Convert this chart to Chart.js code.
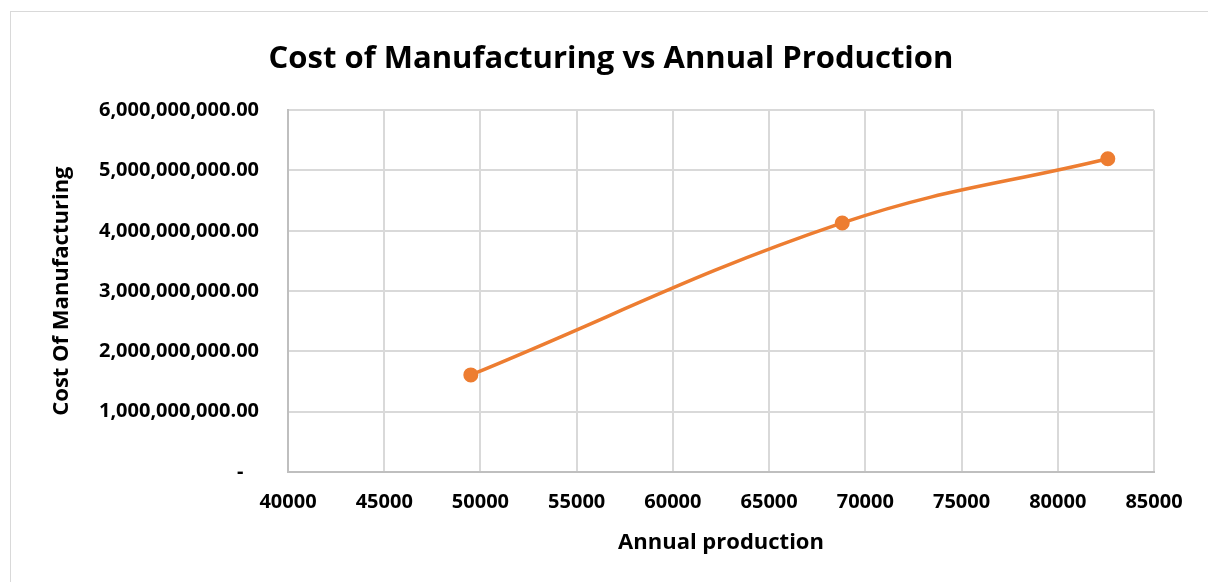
<!DOCTYPE html>
<html>
<head>
<meta charset="utf-8">
<script src="https://cdn.jsdelivr.net/npm/chart.js@4"></script>
<style>
  html, body { margin: 0; padding: 0; background: #fff; overflow: hidden; }
  #wrap { position: relative; width: 1208px; height: 582px; }
  #frame { position: absolute; left: 10px; top: 11px; width: 1210px; height: 600px;
           border: 1px solid #d9d9d9; pointer-events: none; }
</style>
</head>
<body>
<div id="wrap">
  <canvas id="chart" width="1208" height="582"></canvas>
  <div id="frame"></div>
</div>
<script>
// Dados
const chartTitle = 'Cost of Manufacturing vs Annual Production';
const xTitle = 'Annual production';
const yTitle = 'Cost Of Manufacturing';
const annualProduction = [49500, 68800, 82600];
const manufacturingCost = [1610000000, 4130000000, 5195000000];
const xRange = [40000, 85000, 5000];
const yRange = [0, 6000000000, 1000000000];

const orange = '#ED7D31';
const font = "'Open Sans', sans-serif";

const points = annualProduction.map((x, i) => ({ x: x, y: manufacturingCost[i] }));

new Chart(document.getElementById('chart'), {
    type: 'scatter',
    data: {
        datasets: [{
            data: points,
            showLine: true,
            borderColor: orange,
            backgroundColor: orange,
            borderWidth: 3.5,
            pointRadius: 6.5,
            pointBorderWidth: 2,
            tension: 0.4
        }]
    },
    options: {
        responsive: false,
        animation: false,
        // padding à esquerda só para centralizar o título como no Excel
        layout: { padding: { left: 68, right: 54, top: 0, bottom: 0 } },
        plugins: {
            legend: { display: false },
            tooltip: { enabled: false },
            title: {
                display: true,
                text: chartTitle,
                color: '#000',
                font: { family: font, size: 31, weight: 'bold' },
                padding: { top: 41, bottom: 32 }
            }
        },
        scales: {
            x: {
                type: 'linear',
                min: xRange[0], max: xRange[1],
                afterFit: s => { s.height = 110; },
                ticks: {
                    stepSize: xRange[2],
                    color: '#000',
                    font: { family: font, size: 20, weight: 'bold' },
                    padding: 18,
                    maxRotation: 0,
                    callback: v => String(v)
                },
                grid: { color: '#d9d9d9', lineWidth: 2, drawTicks: false },
                border: { color: '#bfbfbf', width: 2 },
                title: {
                    display: true,
                    text: xTitle,
                    color: '#000',
                    font: { family: font, size: 22, weight: 'bold' },
                    padding: { top: 0, bottom: 26 }
                }
            },
            y: {
                min: yRange[0], max: yRange[1],
                afterFit: s => { s.width = 220; },
                ticks: {
                    stepSize: yRange[2],
                    color: '#000',
                    font: { family: font, size: 20, weight: 'bold' },
                    padding: 29,
                    callback: v => v === 0 ? '-   ' : v.toLocaleString('en-US', { minimumFractionDigits: 2 })
                },
                grid: { color: '#d9d9d9', lineWidth: 2, drawTicks: false },
                border: { color: '#bfbfbf', width: 2 },
                title: {
                    display: true,
                    text: yTitle,
                    color: '#000',
                    font: { family: font, size: 22, weight: 'bold' },
                    padding: { top: -19, bottom: 0 }
                }
            }
        }
    }
});
</script>
</body>
</html>
